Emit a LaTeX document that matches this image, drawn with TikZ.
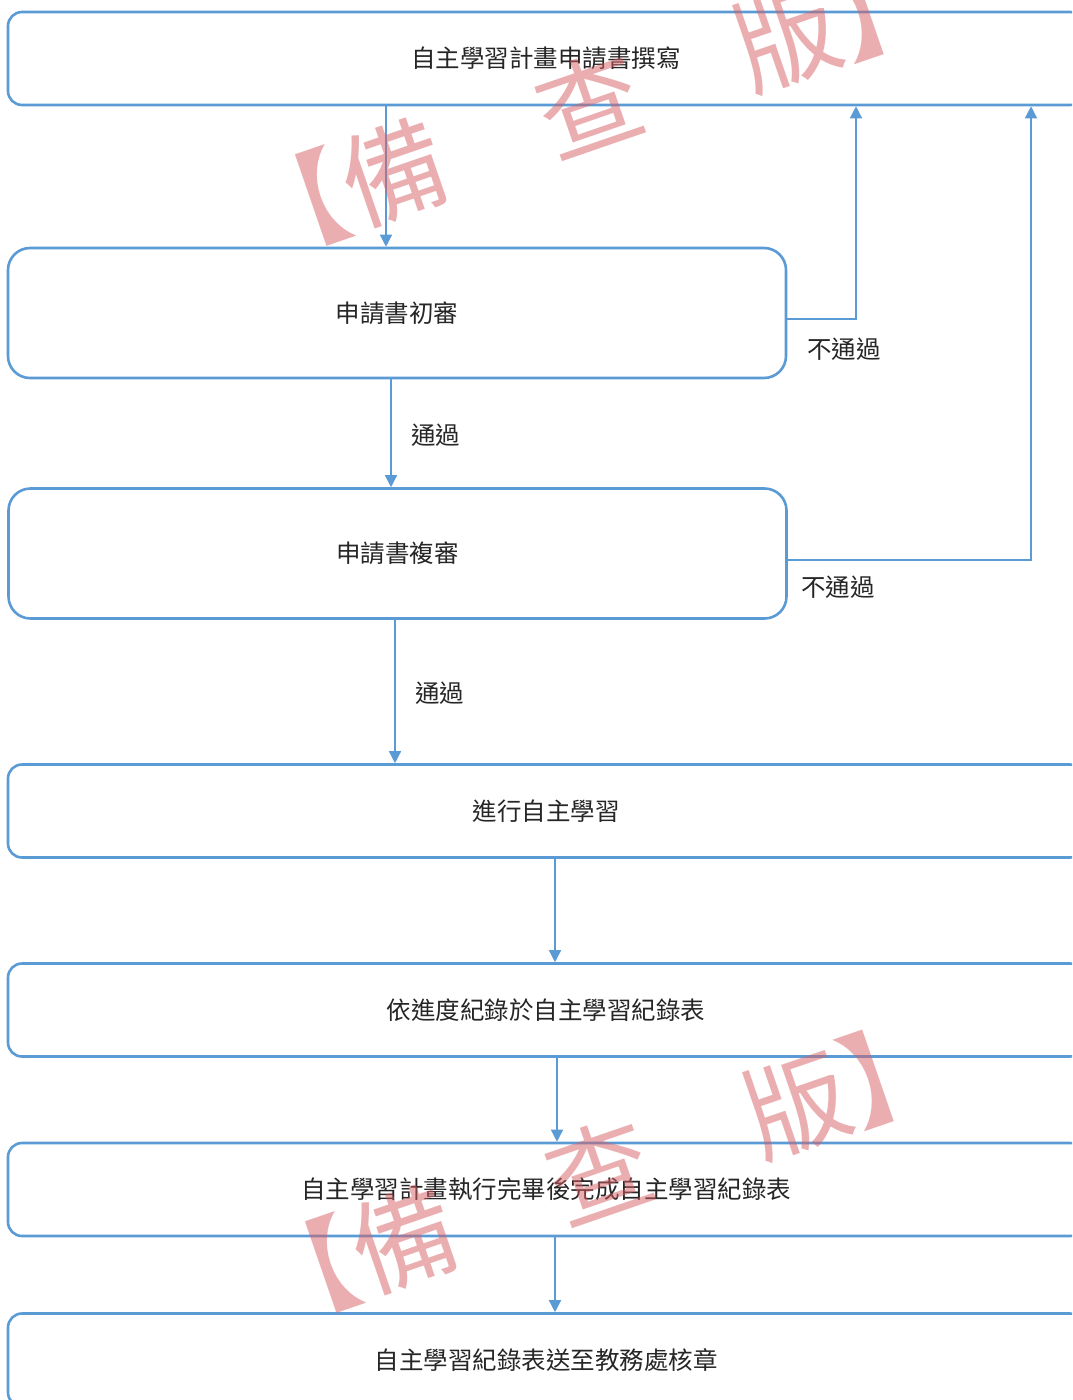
\documentclass[tikz,border=0pt]{standalone}
\usepackage{fontspec}
\newfontfamily\cjk{Noto Sans CJK TC}
\usetikzlibrary{arrows.meta}
\definecolor{lineblue}{RGB}{91,155,213}
\definecolor{wmred}{RGB}{215,95,100}
\tikzset{
  box/.style={draw=lineblue, line width=2.6pt, rounded corners=14pt, inner sep=0pt,
    font=\cjk\fontsize{24.5}{28}\selectfont, text=black!85},
  widebox/.style={box, minimum width=1076pt, minimum height=93pt},
  midbox/.style={box, minimum width=778pt, minimum height=130pt, rounded corners=22pt},
  arr/.style={draw=lineblue, line width=1.4pt, -{Triangle[width=12pt,length=12pt]}},
  lbl/.style={font=\cjk\fontsize{24.5}{28}\selectfont, text=black!85, anchor=west, inner sep=0pt},
  wm/.style={font=\cjk\fontsize{104}{104}\selectfont, text=wmred, opacity=0.5, rotate=19, inner sep=0pt}
}
\begin{document}
\begin{tikzpicture}[x=1pt,y=-1pt]
\useasboundingbox (0,0) rectangle (1072,1400);
\clip (0,0) rectangle (1072,1400);
\fill[white] (0,0) rectangle (1072,1400);
% boxes
\node[widebox] (b1) at (546,58.5) {自主學習計畫申請書撰寫};
\node[midbox] (b2) at (397,313) {申請書初審};
\node[midbox] (b3) at (397.5,553.5) {申請書複審};
\node[widebox] (b4) at (546,811) {進行自主學習};
\node[widebox] (b5) at (546,1010) {依進度紀錄於自主學習紀錄表};
\node[widebox] (b6) at (546,1189.5) {自主學習計畫執行完畢後完成自主學習紀錄表};
\node[widebox] (b7) at (546,1360) {自主學習紀錄表送至教務處核章};
% helper coordinates
\coordinate (x1) at (386,0);
\coordinate (x2) at (391,0);
\coordinate (x3) at (395,0);
\coordinate (x4) at (555,0);
\coordinate (x5) at (557,0);
\coordinate (r1) at (856,319);
\coordinate (r2) at (1031,560);
% connectors
\draw[arr] (b1.south -| x1) -- (b2.north -| x1);
\draw[arr] (b2.south -| x2) -- (b3.north -| x2);
\draw[arr] (b3.south -| x3) -- (b4.north -| x3);
\draw[arr] (b4.south -| x4) -- (b5.north -| x4);
\draw[arr] (b5.south -| x5) -- (b6.north -| x5);
\draw[arr] (b6.south -| x4) -- (b7.north -| x4);
\draw[arr] (b2.east |- r1) -- (r1) -- (b1.south -| r1);
\draw[arr] (b3.east |- r2) -- (r2) -- (b1.south -| r2);
% labels
\node[lbl] (l1) at (411,435) {通過};
\node[lbl] (l2) at (415,693) {通過};
\node[lbl] (l3) at (807,349) {不通過};
\node[lbl] (l4) at (801,587) {不通過};
% watermarks
\node[wm] (w1) at (590,105) {【備　查　版】};
\node[wm] (w2) at (600,1172) {【備　查　版】};
\end{tikzpicture}
\end{document}
